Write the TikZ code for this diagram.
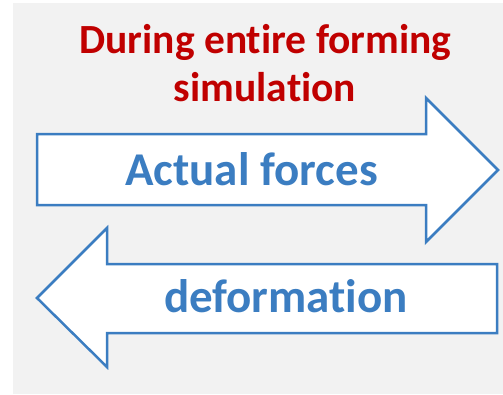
\documentclass[tikz,border=0pt]{standalone}
\usepackage{fontspec}
\setmainfont[Ligatures={NoCommon,NoRequired,NoContextual}]{Carlito}
\definecolor{bggray}{RGB}{242,242,242}
\definecolor{arrowblue}{RGB}{59,125,193}
\definecolor{titlered}{RGB}{192,0,0}
\tikzset{
  bigarrow/.style={draw=arrowblue, fill=white, line width=2.5pt, line join=miter},
  titletext/.style={text=titlered, font=\fontsize{41.5}{48}\selectfont\bfseries, align=center, inner sep=0pt},
  arrowtext/.style={text=arrowblue, font=\fontsize{47}{56}\selectfont\bfseries, inner sep=0pt, anchor=base}
}
\begin{document}
\begin{tikzpicture}[x=1pt,y=-1pt]
\useasboundingbox (0,0) rectangle (503,394);
\fill[bggray] (13,3) rectangle (503,394);
% right arrow
\draw[bigarrow] (37,134) -- (426,134) -- (426,98) -- (498,170) -- (426,242) -- (426,205) -- (37,205) -- cycle;
% left arrow
\draw[bigarrow] (497,264) -- (107,264) -- (107,228) -- (37,298) -- (107,367) -- (107,333) -- (497,333) -- cycle;
\node[titletext, anchor=base] (t1) at (265.5,53) {During entire forming};
\node[titletext, anchor=base] (t2) at (265,101) {simulation};
\node[arrowtext] (af) at (251.5,185) {Actual forces};
\node[arrowtext] (df) at (286,312) {deformation};
\end{tikzpicture}
\end{document}
